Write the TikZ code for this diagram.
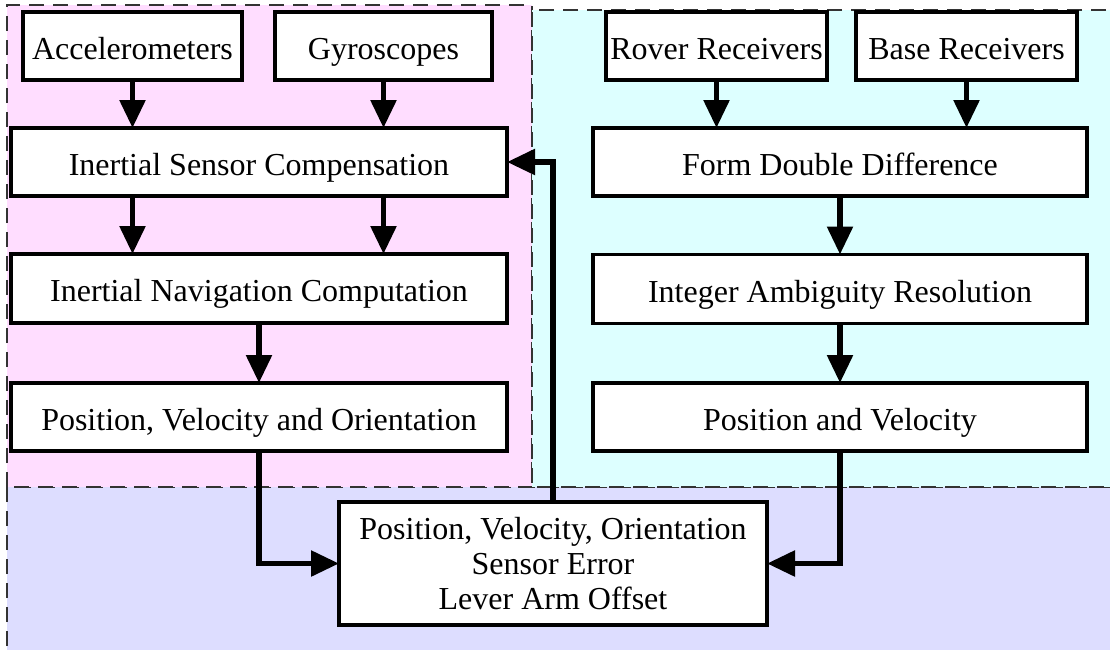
\documentclass[tikz,border=0pt]{standalone}
\usepackage{fontspec}
\setmainfont{Liberation Serif}
\usetikzlibrary{arrows.meta}
\definecolor{pinkbg}{HTML}{FFDDFF}
\definecolor{cyanbg}{HTML}{DDFFFF}
\definecolor{bluebg}{HTML}{DDDDFF}
\tikzset{
  box/.style={draw=black, line width=3.4pt, fill=white, inner sep=0pt, outer sep=0pt,
    align=center, font=\fontsize{32pt}{35pt}\selectfont},
  onebox/.style={box, text height=28pt, text depth=2pt},
  arr/.style={line width=5.5pt, -{Triangle[length=28pt,width=25pt]}},
  cluster/.style={draw=black!80, line width=1.4pt, dash pattern=on 15pt off 9pt}
}
\begin{document}
\begin{tikzpicture}[x=1pt,y=-1pt]
\useasboundingbox (0,0) rectangle (1110,649);
\clip (0,0) rectangle (1110,649);
% clusters
\fill[bluebg] (7,487) rectangle (1130,670);
\draw[cluster] (7,670) -- (7,487) -- (1130,487);
\fill[pinkbg] (7,5) rectangle (532,487);
\draw[cluster] (7,487) -- (7,5) -- (532,5) -- (532,487) -- cycle;
\fill[cyanbg] (532,10) rectangle (1130,487);
\draw[cluster] (1130,10) -- (532,10) -- (532,487) -- (1130,487);
% nodes
\node[onebox, minimum width=219pt, minimum height=68pt] (acc) at (132.5,46) {Accelerometers};
\node[onebox, minimum width=217pt, minimum height=68pt] (gyr) at (383.5,46) {Gyroscopes};
\node[onebox, minimum width=496pt, minimum height=68pt] (isc) at (259,162) {Inertial Sensor Compensation};
\node[onebox, minimum width=496pt, minimum height=69pt] (inc) at (259,288.5) {Inertial Navigation Computation};
\node[onebox, minimum width=496pt, minimum height=68pt] (pvo) at (259,417) {Position, Velocity and Orientation};
\node[onebox, minimum width=221pt, minimum height=68pt] (rov) at (716.5,46) {Rover Receivers};
\node[onebox, minimum width=221pt, minimum height=68pt] (bas) at (966.5,46) {Base Receivers};
\node[onebox, minimum width=494pt, minimum height=68pt] (fdd) at (840,162) {Form Double Difference};
\node[onebox, minimum width=494pt, minimum height=69pt] (iar) at (840,289) {Integer Ambiguity Resolution};
\node[onebox, minimum width=494pt, minimum height=68pt] (pv) at (840,417) {Position and Velocity};
\node[box, minimum width=428pt, minimum height=123pt] (fin) at (553,563.5) {\raisebox{-2pt}{\parbox{400pt}{\centering Position, Velocity, Orientation\\Sensor Error\\Lever Arm Offset}}};
% connectors
\draw[arr] (acc.south) -- (acc.south |- isc.north);
\draw[arr] (gyr.south) -- (gyr.south |- isc.north);
\draw[arr] (isc.south -| acc.south) -- (inc.north -| acc.south);
\draw[arr] (isc.south -| gyr.south) -- (inc.north -| gyr.south);
\draw[arr] (inc.south) -- (pvo.north);
\draw[arr] (rov.south) -- (rov.south |- fdd.north);
\draw[arr] (bas.south) -- (bas.south |- fdd.north);
\draw[arr] (fdd.south) -- (iar.north);
\draw[arr] (iar.south) -- (pv.north);
\draw[arr] (pvo.south) |- (fin.west);
\draw[arr] (pv.south) |- (fin.east);
\draw[arr] (fin.north) |- (isc.east);
\end{tikzpicture}
\end{document}
